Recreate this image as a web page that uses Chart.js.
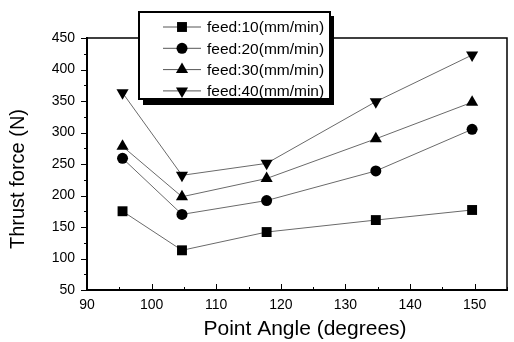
<!DOCTYPE html>
<html>
<head>
<meta charset="utf-8">
<script src="https://cdn.jsdelivr.net/npm/chart.js@4.4.1/dist/chart.umd.min.js"></script>
<style>
    html, body { margin: 0; padding: 0; background: #fff; }
    #wrap { width: 514px; height: 342px; position: relative; }
</style>
</head>
<body>
<div id="wrap"><canvas id="thrustChart"></canvas></div>
<script>
// point angles (degrees)
var angles = [95.5, 104.7, 117.8, 134.7, 149.6];

// thrust force (N) per feed rate
var feed10 = [175, 113, 142, 161, 177];
var feed20 = [259, 170, 192, 239, 305];
var feed30 = [278, 198, 227, 290, 348];
var feed40 = [363, 232, 251, 349, 423];

var seriesLabels = ['feed:10(mm/min)', 'feed:20(mm/min)', 'feed:30(mm/min)', 'feed:40(mm/min)'];
var xTicks = [90, 100, 110, 120, 130, 140, 150];
var yTicks = [50, 100, 150, 200, 250, 300, 350, 400, 450];
var xTitle = 'Point Angle (degrees)';
var yTitle = 'Thrust force (N)';

var FONT = '"Liberation Sans", Arial, sans-serif';

function toPoints(ys) {
    return angles.map(function (a, i) { return { x: a, y: ys[i] }; });
}

function makeSet(label, ys, style, rot, radius) {
    return {
        label: label,
        data: toPoints(ys),
        showLine: true,
        borderColor: '#6a6a6a',
        borderWidth: 1,
        backgroundColor: '#000',
        pointBackgroundColor: '#000',
        pointBorderColor: '#000',
        pointBorderWidth: 0,
        pointStyle: style,
        rotation: rot,
        pointRadius: radius,
        pointHoverRadius: radius
    };
}

// minor/major tick marks drawn off the library scales
var tickPlugin = {
    id: 'tickMarks',
    afterDraw: function (chart) {
        var ctx = chart.ctx;
        var xs = chart.scales.x, ys = chart.scales.y;
        var area = chart.chartArea;
        ctx.save();
        ctx.strokeStyle = '#000';
        ctx.lineWidth = 1;
        ctx.beginPath();
        for (var v = 50; v <= 450; v += 25) {
            var py = Math.round(ys.getPixelForValue(v)) + 0.5;
            var len = (v % 50 === 0) ? 6 : 3;
            ctx.moveTo(area.left - len, py);
            ctx.lineTo(area.left + 1, py);
        }
        for (var u = 90; u <= 155; u += 5) {
            var px = Math.round(xs.getPixelForValue(u)) + 0.5;
            var l2 = (u % 10 === 0) ? 6 : 3;
            ctx.moveTo(px, area.bottom);
            ctx.lineTo(px, area.bottom - l2);
        }
        ctx.stroke();
        ctx.restore();
    }
};

// axis titles, placed where the scan has them (a bit off-centre)
var titlePlugin = {
    id: 'axisTitles',
    afterDraw: function (chart) {
        var ctx = chart.ctx;
        ctx.save();
        ctx.fillStyle = '#000';
        ctx.textAlign = 'center';
        ctx.textBaseline = 'middle';
        ctx.font = '21px ' + FONT;
        ctx.fillText(xTitle, 305, 329);
        ctx.translate(18, 179);
        ctx.rotate(-Math.PI / 2);
        ctx.font = '20px ' + FONT;
        ctx.fillText(yTitle, 0, 0);
        ctx.restore();
    }
};

// boxed legend with shadow, like the original plot
var legendPlugin = {
    id: 'boxLegend',
    afterDraw: function (chart) {
        var ctx = chart.ctx;
        var bx = 139, by = 12, bw = 191, bh = 87;
        ctx.save();
        ctx.fillStyle = '#000';
        ctx.fillRect(bx + 4, by + 4, bw, bh + 2);
        ctx.fillStyle = '#fff';
        ctx.fillRect(bx, by, bw, bh);
        ctx.strokeStyle = '#000';
        ctx.lineWidth = 2;
        ctx.strokeRect(bx, by, bw, bh);
        ctx.font = '15.5px ' + FONT;
        ctx.textBaseline = 'middle';
        chart.data.datasets.forEach(function (ds, i) {
            var cy = by + 15 + i * 21.3;
            ctx.strokeStyle = '#555';
            ctx.lineWidth = 1;
            ctx.beginPath();
            ctx.moveTo(163, cy);
            ctx.lineTo(201, cy);
            ctx.stroke();
            ctx.fillStyle = '#000';
            Chart.helpers.drawPoint(ctx, {
                pointStyle: ds.pointStyle,
                rotation: ds.rotation,
                radius: ds.pointRadius,
                borderWidth: 0
            }, 182, cy);
            ctx.fillStyle = '#000';
            ctx.fillText(ds.label, 207, cy + 1);
        });
        ctx.restore();
    }
};

var framePlugin = {
    id: 'frame',
    afterDraw: function (c) {
        var a = c.chartArea, g = c.ctx;
        g.save();
        g.strokeStyle = '#000';
        g.lineWidth = 1.5;
        g.beginPath();
        g.moveTo(a.left, a.top);
        g.lineTo(a.right, a.top);
        g.lineTo(a.right, a.bottom);
        g.stroke();
        g.restore();
    }
};

var ctx = document.getElementById('thrustChart').getContext('2d');
var chart = new Chart(ctx, {
    type: 'scatter',
    data: {
        datasets: [
            makeSet(seriesLabels[0], feed10, 'rect', 0, 7),
            makeSet(seriesLabels[1], feed20, 'circle', 0, 5.5),
            makeSet(seriesLabels[2], feed30, 'triangle', 0, 7),
            makeSet(seriesLabels[3], feed40, 'triangle', 180, 7)
        ]
    },
    options: {
        responsive: true,
        maintainAspectRatio: false,
        animation: false,
        layout: { padding: { top: 38, right: 0, left: 0, bottom: 0 } },
        plugins: {
            legend: { display: false },
            tooltip: { enabled: false }
        },
        scales: {
            x: {
                type: 'linear',
                min: 90,
                max: 155,
                afterBuildTicks: function (scale) {
                    scale.ticks = xTicks.map(function (v) { return { value: v }; });
                },
                afterFit: function (scale) {
                    scale.height = 52;
                    scale.paddingLeft = 0;
                    scale.paddingRight = 0;
                },
                grid: { display: false, drawTicks: false },
                border: { display: true, color: '#000', width: 2 },
                ticks: {
                    color: '#000',
                    padding: 7,
                    maxRotation: 0,
                    font: { family: FONT, size: 14 }
                },
                title: { display: false }
            },
            y: {
                type: 'linear',
                min: 50,
                max: 450,
                afterBuildTicks: function (scale) {
                    scale.ticks = yTicks.map(function (v) { return { value: v }; });
                },
                afterFit: function (scale) {
                    scale.width = 87;
                    scale.paddingTop = 0;
                    scale.paddingBottom = 0;
                },
                grid: { display: false, drawTicks: false },
                border: { display: true, color: '#000', width: 2 },
                ticks: {
                    color: '#000',
                    padding: 12,
                    font: { family: FONT, size: 14 }
                },
                title: { display: false }
            }
        }
    },
    plugins: [tickPlugin, framePlugin, titlePlugin, legendPlugin]
});
</script>
</body>
</html>
